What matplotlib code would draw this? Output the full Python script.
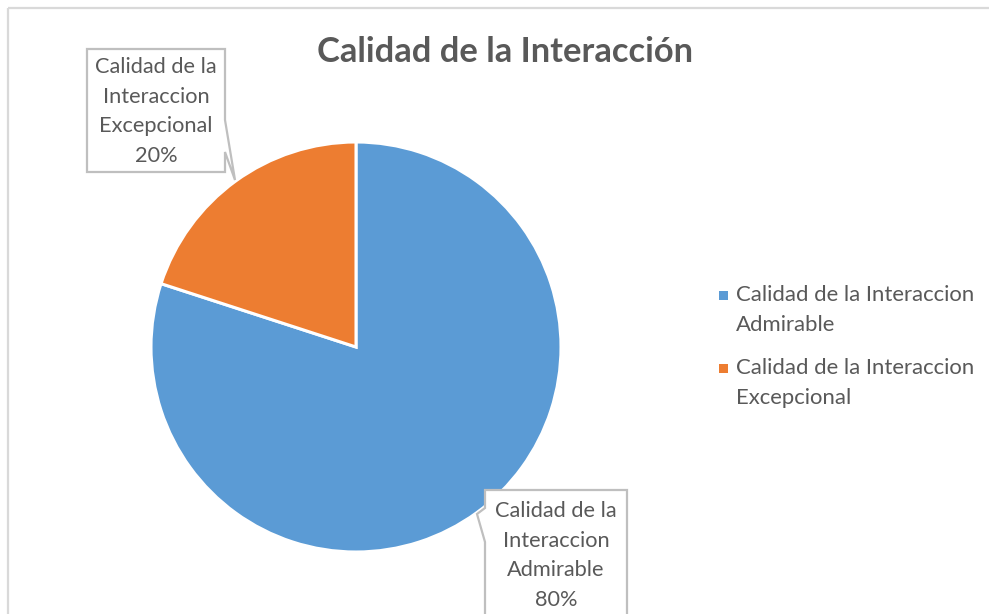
import matplotlib
matplotlib.use("Agg")
import matplotlib.pyplot as plt
from matplotlib.patches import Polygon, Rectangle
from matplotlib.font_manager import FontProperties

# ---- data ----
categories = ["Calidad de la Interaccion Admirable", "Calidad de la Interaccion Excepcional"]
values = [80, 20]
colors = ["#5B9BD5", "#ED7D31"]
title = "Calidad de la Interacción"

W, H = 989, 614
fig = plt.figure(figsize=(W / 100, H / 100), dpi=100)
fig.patch.set_facecolor("white")
renderer = fig.canvas.get_renderer()

FAM = ["Lato", "DejaVu Sans"]
fp = FontProperties(family=FAM)
fpb = FontProperties(family=FAM, weight="bold")
TXT = "#595959"


def fit(s, target_px, prop):
    t = fig.text(0, 0, s, fontproperties=prop, fontsize=10)
    w = t.get_window_extent(renderer).width
    t.remove()
    return 10 * target_px / w


# ---- pie ----
cx, cy, r = 356, 347, 205
pax = fig.add_axes([(cx - r) / W, (H - cy - r) / H, 2 * r / W, 2 * r / H])
pax.pie(values, colors=colors, startangle=90, counterclock=False, radius=1,
        wedgeprops=dict(edgecolor="white", linewidth=2.2))
pax.set_xlim(-1, 1)
pax.set_ylim(-1, 1)
pax.set_aspect("auto")
pax.axis("off")

# ---- overlay in pixel coordinates ----
ov = fig.add_axes([0, 0, 1, 1])
ov.set_xlim(0, W)
ov.set_ylim(H, 0)
ov.axis("off")

# chart frame
ov.plot([8, 8], [H, 7.5], color="#D9D9D9", lw=1.6, solid_capstyle="butt")
ov.plot([8, W], [7.5, 7.5], color="#D9D9D9", lw=1.6, solid_capstyle="butt")

# title
tfs = fit(title, 378, fpb)
ov.text(505, 52, title, fontproperties=fpb, fontsize=tfs, color=TXT,
        ha="center", va="center")

# data label callouts
lfs = fit("Calidad de la", 122, fp)
edge = "#BFBFBF"
callouts = [
    # (polygon outline, text center x, first line y)
    ([(87, 49), (225, 49), (225, 120), (235, 180), (225, 152), (225, 172), (87, 172)], 156, 67),
    ([(485, 490), (627, 490), (627, 640), (485, 640), (485, 542), (477, 514), (485, 508)], 556, 511),
]
order = [1, 0]
for (poly, tx, ty), i in zip(callouts, order):
    ov.add_patch(Polygon(poly, closed=True, facecolor="white", edgecolor=edge, lw=1.6))
    words = categories[i].split(" ")
    lines = [" ".join(words[:3]), words[3], words[4], f"{values[i]}%"]
    for k, ln in enumerate(lines):
        ov.text(tx, ty + k * 29.7, ln, fontproperties=fp, fontsize=lfs, color=TXT,
                ha="center", va="center")

# legend
gfs = fit("Calidad de la Interaccion", 238, fp)
leg_y = [295, 368]
for i, cat in enumerate(categories):
    y = leg_y[i]
    ov.add_patch(Rectangle((718.5, y - 4.5), 9, 9, facecolor=colors[i], edgecolor="none"))
    words = cat.split(" ")
    ov.text(736, y, " ".join(words[:4]), fontproperties=fp, fontsize=gfs, color=TXT,
            ha="left", va="center")
    ov.text(736, y + 30, words[4], fontproperties=fp, fontsize=gfs, color=TXT,
            ha="left", va="center")

fig.savefig("out.png", dpi=100, facecolor="white")
